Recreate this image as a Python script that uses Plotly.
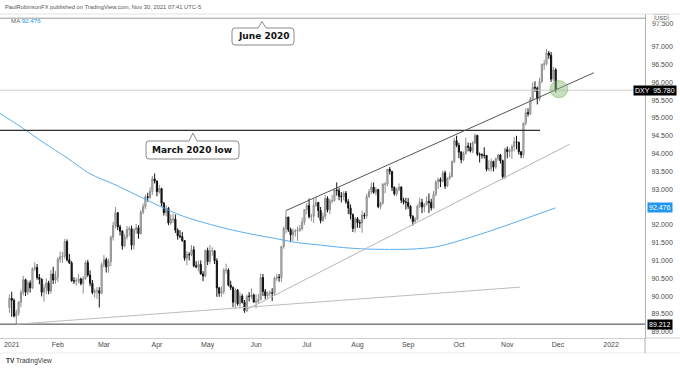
import plotly.graph_objects as go
import pandas as pd

# ---------------- data ----------------
FIRST_DAY = "2020-12-31"
LAST_DAY = "2021-11-30"
HOLIDAYS = ["2020-12-25", "2021-01-01"]

OPEN = [89.68,
    # Jan
    89.94,89.88,89.44,89.53,89.83,90.10,90.46,90.11,90.37,90.23,90.77,90.80,90.52,90.47,90.11,90.23,90.37,90.14,90.62,90.45,
    # Feb
    90.53,91.03,91.10,91.12,91.53,91.02,90.93,90.43,90.42,90.43,90.48,90.35,90.49,90.94,90.59,90.36,90.10,90.14,90.15,90.08,
    # Mar
    90.88,91.02,90.82,90.97,91.65,91.98,92.34,91.94,91.82,91.41,91.66,91.87,91.89,91.43,91.86,91.92,91.75,92.35,92.51,92.79,92.77,92.94,93.29,
    # Apr
    93.23,92.93,93.02,92.61,92.34,92.46,92.05,92.16,92.16,91.85,91.69,91.67,91.56,91.06,91.17,91.16,91.30,90.85,90.82,90.89,90.62,90.56,
    # May
    91.28,90.97,91.27,91.27,90.99,90.23,90.08,90.13,90.73,90.73,90.31,90.24,89.83,90.17,89.78,90.00,89.83,89.58,90.00,89.99,90.03,
    # Jun
    89.83,89.85,89.90,90.52,90.13,90.01,90.09,90.09,90.08,90.50,90.53,90.52,91.39,91.90,92.22,91.86,91.72,91.81,91.83,91.85,91.89,92.08,
    # Jul
    92.43,92.54,92.23,92.24,92.55,92.63,92.40,92.12,92.24,92.74,92.42,92.67,92.68,92.98,92.96,92.80,92.79,92.89,92.65,92.47,92.29,91.90,
    # Aug
    92.17,92.06,92.05,92.27,92.25,92.79,92.93,93.06,92.91,92.99,92.51,92.60,93.14,93.14,93.56,93.50,93.05,92.87,92.99,93.06,92.69,92.64,
    # Sep
    92.63,92.52,92.24,92.09,92.16,92.52,92.63,92.50,92.58,92.66,92.63,92.48,92.86,93.20,93.27,93.22,93.46,93.09,93.31,93.36,93.77,94.36,
    # Oct
    94.23,94.04,93.83,94.00,94.21,94.18,94.07,94.30,94.51,93.98,93.96,93.96,93.95,93.56,93.58,93.78,93.62,93.85,93.96,93.80,93.35,
    # Nov
    94.12,94.05,94.08,94.20,94.33,94.32,94.05,93.96,94.85,95.15,95.12,95.53,95.86,95.84,95.54,96.03,96.50,96.52,96.82,96.76,96.09,96.35,
]
HIGH = [90.05,
    90.12,89.93,89.62,89.86,90.18,90.57,90.49,90.44,90.44,90.80,90.95,90.90,90.62,90.50,90.33,90.50,90.43,90.73,90.82,90.70,
    91.10,91.25,91.24,91.60,91.59,91.18,90.98,90.53,90.51,90.62,90.52,90.56,91.00,91.02,90.72,90.45,90.21,90.25,90.25,90.94,
    91.15,91.08,91.05,91.70,92.08,92.50,92.36,92.00,91.85,91.74,91.97,91.96,91.98,91.90,92.03,91.99,92.42,92.60,92.85,92.90,93.05,93.37,93.44,
    93.24,93.12,93.04,92.64,92.55,92.50,92.29,92.32,92.29,91.90,91.85,91.80,91.56,91.26,91.23,91.43,91.40,90.98,91.00,91.00,90.70,91.31,
    91.36,91.43,91.37,91.29,91.06,90.26,90.27,90.78,90.91,90.78,90.43,90.27,90.22,90.20,90.11,90.06,89.89,90.04,90.11,90.22,90.07,
    90.05,90.06,90.63,90.62,90.20,90.13,90.16,90.22,90.55,90.62,90.62,91.40,91.95,92.40,92.22,91.92,91.90,91.88,91.95,92.00,92.20,92.44,
    92.61,92.74,92.31,92.73,92.79,92.63,92.50,92.34,92.83,92.80,92.73,92.84,93.01,93.19,93.04,92.92,92.94,92.95,92.72,92.57,92.32,92.22,
    92.22,92.14,92.40,92.34,92.87,93.00,93.19,93.19,93.06,93.01,92.65,93.17,93.20,93.56,93.62,93.51,93.08,93.05,93.16,93.08,92.76,92.76,
    92.75,92.55,92.27,92.22,92.57,92.76,92.73,92.61,92.80,92.88,92.73,92.95,93.25,93.33,93.33,93.52,93.52,93.33,93.47,93.81,94.44,94.50,
    94.30,94.07,94.06,94.45,94.31,94.30,94.35,94.56,94.53,94.03,94.01,94.18,93.96,93.81,93.86,93.80,93.89,94.00,93.99,93.83,94.17,
    94.20,94.15,94.25,94.46,94.50,94.33,94.07,94.88,95.27,95.27,95.59,96.00,96.03,95.88,96.13,96.53,96.63,96.94,96.88,96.85,96.43,96.40,
]
LOW = [89.53,
    89.42,89.40,89.21,89.45,89.69,90.02,90.00,90.03,90.10,90.20,90.70,90.46,90.33,89.99,89.84,90.05,90.05,90.07,90.34,90.35,
    90.40,90.94,90.93,91.05,90.97,90.90,90.40,90.34,90.29,90.36,90.30,90.07,90.46,90.54,90.28,90.05,89.96,89.92,89.68,90.05,
    90.80,90.66,90.66,90.84,91.56,91.90,91.85,91.70,91.30,91.37,91.59,91.68,91.30,91.31,91.75,91.61,91.73,92.30,92.44,92.65,92.72,92.84,93.16,
    92.80,92.87,92.52,92.26,92.24,91.99,92.00,92.05,91.77,91.58,91.62,91.52,90.99,90.86,91.00,91.12,90.81,90.78,90.69,90.60,90.42,90.53,
    90.87,90.91,91.13,90.90,89.98,89.98,89.98,90.05,90.63,90.27,90.17,89.69,89.65,89.73,89.66,89.79,89.53,89.56,89.85,89.92,89.82,
    89.66,89.79,89.88,90.00,89.91,89.94,89.99,89.86,90.03,90.43,90.40,90.39,91.33,91.76,91.80,91.51,91.55,91.67,91.55,91.80,91.84,92.00,
    92.30,92.18,92.10,92.05,92.50,92.20,92.04,92.08,92.16,92.35,92.30,92.60,92.65,92.82,92.69,92.63,92.69,92.59,92.30,92.15,91.80,91.78,
    91.92,91.91,91.78,92.16,92.18,92.75,92.86,92.87,92.82,92.47,92.44,92.57,92.88,93.08,93.41,92.95,92.82,92.80,92.94,92.61,92.57,92.43,
    92.45,92.17,91.98,92.04,92.12,92.47,92.33,92.35,92.54,92.33,92.40,92.45,92.80,93.00,93.06,93.19,93.01,93.06,93.26,93.33,93.73,94.18,
    93.87,93.73,93.79,93.97,94.06,94.03,94.01,94.27,93.93,93.75,93.86,93.86,93.50,93.51,93.49,93.50,93.57,93.80,93.72,93.28,93.28,
    93.87,93.90,93.85,94.06,94.12,93.97,93.87,93.88,94.79,95.04,95.08,95.48,95.73,95.38,95.47,95.97,96.35,96.47,96.66,96.01,96.03,95.72,
]
CLOSE = [89.94,
    89.88,89.44,89.53,89.83,90.10,90.46,90.11,90.37,90.23,90.77,90.80,90.52,90.47,90.11,90.23,90.37,90.14,90.62,90.45,90.53,
    91.03,91.10,91.12,91.53,91.02,90.93,90.43,90.42,90.43,90.48,90.35,90.49,90.94,90.59,90.36,90.10,90.14,90.15,90.08,90.88,
    91.02,90.82,90.97,91.65,91.98,92.34,91.94,91.82,91.41,91.66,91.87,91.89,91.43,91.86,91.92,91.75,92.35,92.51,92.79,92.77,92.94,93.29,93.23,
    92.93,93.02,92.61,92.34,92.46,92.05,92.16,92.16,91.85,91.69,91.67,91.56,91.06,91.17,91.16,91.30,90.85,90.82,90.89,90.62,90.56,91.28,
    90.97,91.27,91.27,90.99,90.23,90.08,90.13,90.73,90.73,90.31,90.24,89.83,90.17,89.78,90.00,89.83,89.58,90.00,89.99,90.03,89.83,
    89.85,89.90,90.52,90.13,90.01,90.09,90.09,90.08,90.50,90.53,90.52,91.39,91.90,92.22,91.86,91.72,91.81,91.83,91.85,91.89,92.08,92.43,
    92.54,92.23,92.24,92.55,92.63,92.40,92.12,92.24,92.74,92.42,92.67,92.68,92.98,92.96,92.80,92.79,92.89,92.65,92.47,92.29,91.90,92.17,
    92.06,92.05,92.27,92.25,92.79,92.93,93.06,92.91,92.99,92.51,92.60,93.14,93.14,93.56,93.50,93.05,92.87,92.99,93.06,92.69,92.64,92.63,
    92.52,92.24,92.09,92.16,92.52,92.63,92.50,92.58,92.66,92.63,92.48,92.86,93.20,93.27,93.22,93.46,93.09,93.31,93.36,93.77,94.36,94.23,
    94.04,93.83,94.00,94.21,94.18,94.07,94.30,94.51,93.98,93.96,93.96,93.95,93.56,93.58,93.78,93.62,93.85,93.96,93.80,93.35,94.12,
    94.05,94.08,94.20,94.33,94.32,94.05,93.96,94.85,95.15,95.12,95.53,95.86,95.84,95.54,96.03,96.50,96.52,96.82,96.76,96.09,96.35,95.78,
]

MA_DATES = ["2020-12-23","2021-01-08","2021-01-22","2021-02-05","2021-02-19","2021-03-05","2021-03-19",
            "2021-04-02","2021-04-16","2021-04-30","2021-05-14","2021-05-28","2021-06-11","2021-06-25",
            "2021-07-09","2021-07-23","2021-08-06","2021-08-20","2021-09-03","2021-09-17","2021-10-01",
            "2021-10-15","2021-10-29","2021-11-12","2021-11-30"]
MA_VALUES = [95.16,94.75,94.30,93.88,93.43,93.15,92.84,92.53,92.25,92.05,91.88,91.74,91.62,91.50,
             91.43,91.36,91.32,91.31,91.32,91.38,91.55,91.75,91.97,92.20,92.476]
MA_LAST = 92.476
LAST_PRICE = 95.78
JAN_LOW = 89.212
MARCH_2020_LOW = 94.65
JUNE_2020_LEVEL = 97.80

# trend lines: (date, price) endpoints
UPPER_CHANNEL = [("2021-06-18", 92.40), ("2021-12-22 14:00", 96.27)]
LOWER_CHANNEL = [("2021-05-25", 89.59), ("2021-12-08", 94.26)]
LONG_LINE = [("2021-01-06", 89.21), ("2021-11-08 12:00", 90.25)]
MARCH_LINE_END = "2021-11-19 05:00"

MONTH_TICKS = ["2021-01-04","2021-02-01","2021-03-01","2021-04-01","2021-05-03","2021-06-01","2021-07-01",
               "2021-08-02","2021-09-01","2021-10-01","2021-11-01","2021-12-01","2022-01-03"]
MONTH_LABELS = ["2021","Feb","Mar","Apr","May","Jun","Jul","Aug","Sep","Oct","Nov","Dec","2022"]
PRICE_TICKS = [89.0,89.5,90.0,90.5,91.0,91.5,92.0,93.0,93.5,94.0,94.5,95.0,95.5,96.0,96.5,97.0]

X_RANGE = ["2020-12-23 22:00", "2022-01-21 17:45"]
Y_RANGE = [88.823, 97.918]

DATES = [d for d in pd.bdate_range(FIRST_DAY, LAST_DAY) if d.strftime("%Y-%m-%d") not in HOLIDAYS]
assert len(DATES) == len(OPEN) == len(HIGH) == len(LOW) == len(CLOSE)

# ---------------- layout helpers ----------------
W, H = 680, 370
ML, MR, MT, MB = 0, 35, 14, 32
PW, PH = W - ML - MR, H - MT - MB
FONT = "Liberation Sans"


def pxx(x):
    return (x - ML) / PW


def pxy(y):
    return (MT + PH - y) / PH


def callout_path(x0, y0, x1, y1, tipx, tipy, r=3, nw=4):
    def P(x, y):
        return f"{pxx(x):.5f},{pxy(y):.5f}"
    return (f"M {P(x0 + r, y0)} L {P(tipx - nw, y0)} L {P(tipx, tipy)} L {P(tipx + nw, y0)} "
            f"L {P(x1 - r, y0)} Q {P(x1, y0)} {P(x1, y0 + r)} L {P(x1, y1 - r)} "
            f"Q {P(x1, y1)} {P(x1 - r, y1)} L {P(x0 + r, y1)} Q {P(x0, y1)} {P(x0, y1 - r)} "
            f"L {P(x0, y0 + r)} Q {P(x0, y0)} {P(x0 + r, y0)} Z")


fig = go.Figure()

fig.add_trace(go.Scatter(
    x=MA_DATES, y=MA_VALUES, mode="lines",
    line=dict(color="#5aaef0", width=1, shape="spline", smoothing=0.8),
    hoverinfo="skip", showlegend=False))

fig.add_trace(go.Candlestick(
    x=DATES, open=OPEN, high=HIGH, low=LOW, close=CLOSE,
    increasing=dict(line=dict(color="#8e8e8e", width=1), fillcolor="#c9c9c9"),
    decreasing=dict(line=dict(color="#111111", width=1), fillcolor="#111111"),
    whiskerwidth=0, showlegend=False))

shapes = []
shapes.append(dict(type="line", xref="paper", x0=0, x1=1, yref="y", y0=JUNE_2020_LEVEL, y1=JUNE_2020_LEVEL,
                   line=dict(color="#9a9a9a", width=1)))
shapes.append(dict(type="line", xref="paper", x0=0, x1=1, yref="y", y0=LAST_PRICE, y1=LAST_PRICE,
                   line=dict(color="#cfcfcf", width=1)))
shapes.append(dict(type="line", xref="paper", x0=0, x1=1, yref="y", y0=JAN_LOW, y1=JAN_LOW,
                   line=dict(color="#3a3a3a", width=1)))
shapes.append(dict(type="line", xref="x", x0=X_RANGE[0], x1=MARCH_LINE_END, yref="y",
                   y0=MARCH_2020_LOW, y1=MARCH_2020_LOW, line=dict(color="#2e2e2e", width=1.2)))
for pts, col, w in [(UPPER_CHANNEL, "#555555", 1), (LOWER_CHANNEL, "#b5b5b5", 1), (LONG_LINE, "#bdbdbd", 1)]:
    shapes.append(dict(type="line", xref="x", yref="y", x0=pts[0][0], y0=pts[0][1], x1=pts[1][0], y1=pts[1][1],
                       line=dict(color=col, width=w)))
shapes.append(dict(type="circle", xref="x", yref="y", x0="2021-11-25 12:00", x1="2021-12-07 07:00",
                   y0=95.57, y1=96.05, fillcolor="rgba(130,185,110,0.45)",
                   line=dict(color="rgba(120,175,100,0.5)", width=1)))
shapes.append(dict(type="line", xref="paper", yref="paper", x0=0, x1=W / PW, y0=1, y1=1,
                   line=dict(color="#e2e2e2", width=1)))
shapes.append(dict(type="line", xref="paper", yref="paper", x0=1, x1=W / PW, y0=0, y1=0,
                   line=dict(color="#cfcfcf", width=1)))
shapes.append(dict(type="line", xref="paper", yref="paper", x0=0, x1=W / PW, y0=pxy(353), y1=pxy(353),
                   line=dict(color="#ececec", width=1)))
shapes.append(dict(type="line", xref="paper", yref="paper", x0=1, x1=1, y0=0, y1=pxy(353),
                   line=dict(color="#b0b0b0", width=1)))
shapes.append(dict(type="path", xref="paper", yref="paper",
                   path=callout_path(232, 28, 294, 45, 262, 21.5),
                   fillcolor="white", line=dict(color="#8a8a8a", width=1)))
shapes.append(dict(type="path", xref="paper", yref="paper",
                   path=callout_path(146, 141, 239, 159, 193, 133),
                   fillcolor="white", line=dict(color="#8a8a8a", width=1)))

ann = []
ann.append(dict(text="<b>June 2020</b>", xref="paper", yref="paper", x=pxx(263), y=pxy(36.5),
                xanchor="center", yanchor="middle",
                showarrow=False, font=dict(family="DejaVu Sans", size=9, color="#111")))
ann.append(dict(text="<b>March 2020 low</b>", xref="paper", yref="paper", x=pxx(192.5), y=pxy(150),
                xanchor="center", yanchor="middle",
                showarrow=False, font=dict(family="DejaVu Sans", size=9, color="#111")))
ann.append(dict(text="PaulRobinsonFX published on TradingView.com, Nov 30, 2021 07:41 UTC-5",
                xref="paper", yref="paper", x=pxx(3), y=pxy(6.5), xanchor="left", yanchor="middle",
                showarrow=False, font=dict(family=FONT, size=5.8, color="#555")))
ann.append(dict(text=f"MA <span style='color:#2196f3'>{MA_LAST:.3f}</span>",
                xref="paper", yref="paper", x=pxx(9), y=pxy(21), xanchor="left", yanchor="middle",
                showarrow=False, font=dict(family=FONT, size=6.2, color="#666")))
ann.append(dict(text="<b>TV</b> TradingView", xref="paper", yref="paper", x=pxx(4), y=pxy(361),
                xanchor="left", yanchor="middle", showarrow=False, font=dict(family=FONT, size=6.5, color="#333")))
ann.append(dict(text="97.500", xref="paper", yref="paper", x=pxx(650), y=pxy(23), xanchor="left",
                yanchor="middle", showarrow=False, font=dict(family=FONT, size=7, color="#4a4a4a")))
ann.append(dict(text="USD", xref="paper", yref="paper", x=pxx(661), y=pxy(18.5), xanchor="center",
                yanchor="middle", showarrow=False, bgcolor="white", bordercolor="#cccccc", borderwidth=1,
                borderpad=0, font=dict(family=FONT, size=6, color="#555")))
ann.append(dict(text=f"DXY  {LAST_PRICE:.3f}", xref="paper", yref="y", x=pxx(677), y=LAST_PRICE,
                xanchor="right", yanchor="middle", showarrow=False, bgcolor="#000000", borderpad=1,
                font=dict(family=FONT, size=7, color="white")))
ann.append(dict(text=f"{MA_LAST:.3f}", xref="paper", yref="y", x=pxx(647), y=MA_LAST,
                xanchor="left", yanchor="middle", showarrow=False, bgcolor="#2196f3", borderpad=1,
                font=dict(family=FONT, size=7, color="white")))
ann.append(dict(text=f"{JAN_LOW:.3f}", xref="paper", yref="y", x=pxx(647), y=JAN_LOW,
                xanchor="left", yanchor="middle", showarrow=False, bgcolor="#000000", borderpad=1,
                font=dict(family=FONT, size=7, color="white")))

fig.update_layout(
    width=W, height=H,
    margin=dict(l=ML, r=MR, t=MT, b=MB),
    paper_bgcolor="white", plot_bgcolor="white",
    showlegend=False,
    shapes=shapes, annotations=ann,
    xaxis=dict(type="date", range=X_RANGE,
               rangebreaks=[dict(bounds=["sat", "mon"]), dict(values=HOLIDAYS)],
               rangeslider=dict(visible=False),
               tickmode="array", tickvals=MONTH_TICKS, ticktext=MONTH_LABELS,
               showgrid=False, zeroline=False, showline=True, linecolor="#cfcfcf",
               ticks="", tickfont=dict(family=FONT, size=7, color="#4a4a4a")),
    yaxis=dict(side="right", range=Y_RANGE, tickmode="array", tickvals=PRICE_TICKS,
               ticktext=[f"{v:.3f}" for v in PRICE_TICKS],
               showgrid=False, zeroline=False, showline=True, linecolor="#b0b0b0",
               ticks="", ticklabelstandoff=4, tickfont=dict(family=FONT, size=7, color="#4a4a4a")),
    hovermode=False,
)

fig.write_html("out.html", config={"displayModeBar": False},
               post_script="document.body.style.margin='0';document.body.style.overflow='hidden';")
